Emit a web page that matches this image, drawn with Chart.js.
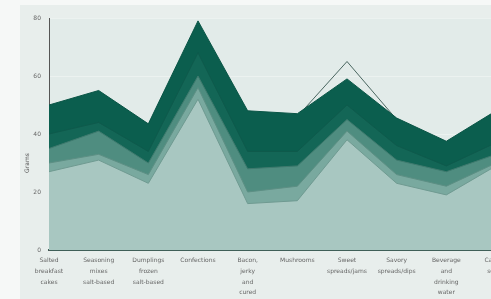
<!DOCTYPE html>
<html>
<head>
<meta charset="utf-8">
<script src="https://cdn.jsdelivr.net/npm/chart.js@4"></script>
<style>
  html, body { margin: 0; padding: 0; background: #f6f8f7; overflow: hidden; }
  #panel { position: absolute; left: 20px; top: 5px; width: 520px; height: 300px; background: #e8eeec; }
  #wrap { position: absolute; left: 0; top: 0; width: 530px; height: 299px; }
</style>
</head>
<body>
<div id="panel"></div>
<div id="wrap"><canvas id="c" width="530" height="299"></canvas></div>
<script>
// ---- data ----
const categories = [
  ["Salted", "breakfast", "cakes"],
  ["Seasoning", "mixes", "salt-based"],
  ["Dumplings", "frozen", "salt-based"],
  "Confections",
  ["Bacon,", "jerky", "and", "cured"],
  "Mushrooms",
  ["Sweet", "spreads/jams"],
  ["Savory", "spreads/dips"],
  ["Beverage", "and", "drinking", "water"],
  ["Canned", "soups"]
];
const yTicks = [0, 20, 40, 60, 80];
const yTitle = "Grams";
const layer1 = [50, 55, 43.5, 79, 48, 47, 59, 45.5, 37.5, 48];
const layer2 = [40, 44, 34, 68, 34, 34, 50, 36, 29, 37];
const layer3 = [35, 41, 30, 60, 28, 29, 45, 31, 27, 33];
const layer4 = [30, 33, 26, 56, 20, 22, 41, 26, 22, 30];
const layer5 = [27, 31, 23, 52, 16, 17, 38, 23, 19, 29];
const peakLine = [49, 54, 43, 78, 47, 46, 65, 45, 37, 47];

const plotBg = {
  id: 'plotBg',
  beforeDraw(chart) {
    const {ctx, chartArea: a} = chart;
    ctx.save();
    ctx.fillStyle = '#e2ebe9';
    ctx.fillRect(a.left, a.top, a.right - a.left, a.bottom - a.top);
    ctx.restore();
  },
  afterDraw(chart) {
    const {ctx} = chart;
    ctx.save();
    ctx.translate(27, 163);
    ctx.rotate(-Math.PI / 2);
    ctx.fillStyle = '#555';
    ctx.font = '6px "DejaVu Sans"';
    ctx.textAlign = 'center';
    ctx.textBaseline = 'middle';
    ctx.fillText(yTitle, 0, 0);
    ctx.restore();
  }
};

const mk = (label, data, fill, border, bw) => ({
  label, data,
  backgroundColor: fill,
  borderColor: border,
  borderWidth: bw,
  fill: 'origin',
  pointRadius: 0,
  tension: 0
});

new Chart(document.getElementById('c'), {
  type: 'line',
  data: {
    labels: categories,
    datasets: [
      mk('layer5', layer5, '#a8c7c1', '#6f9a91', 1),
      mk('layer4', layer4, '#79a99f', '#5d8f84', 1),
      mk('layer3', layer3, '#4f8d80', '#3f7a6e', 1),
      mk('layer2', layer2, '#136656', '#0f5a4c', 1),
      mk('layer1', layer1, '#0b5e4e', '#0a5546', 1),
      {label: 'peak', data: peakLine, borderColor: '#4a6660', borderWidth: 1, fill: false, pointRadius: 0, tension: 0}
    ]
  },
  options: {
    responsive: false,
    animation: false,
    layout: { padding: { top: 18, right: 34, left: 0, bottom: 0 } },
    plugins: { legend: { display: false }, tooltip: { enabled: false } },
    scales: {
      x: {
        offset: false,
        grid: { display: false, drawTicks: false },
        border: { display: true, color: '#3f5f58', width: 2 },
        ticks: { color: '#666', font: { size: 6, family: 'DejaVu Sans', lineHeight: 1.8 }, padding: 5, maxRotation: 0, autoSkip: false },
        afterFit(s) { s.height = 49; }
      },
      y: {
        min: 0, max: 80,
        afterBuildTicks(s) { s.ticks = yTicks.map(v => ({value: v})); },
        grid: { color: 'rgba(255,255,255,0.35)', drawTicks: false },
        border: { display: true, color: '#555', width: 1 },
        ticks: { color: '#666', font: { size: 6, family: 'DejaVu Sans' }, padding: 8 },
        afterFit(s) { s.width = 49; }
      }
    }
  },
  plugins: [plotBg]
});
</script>
</body>
</html>
